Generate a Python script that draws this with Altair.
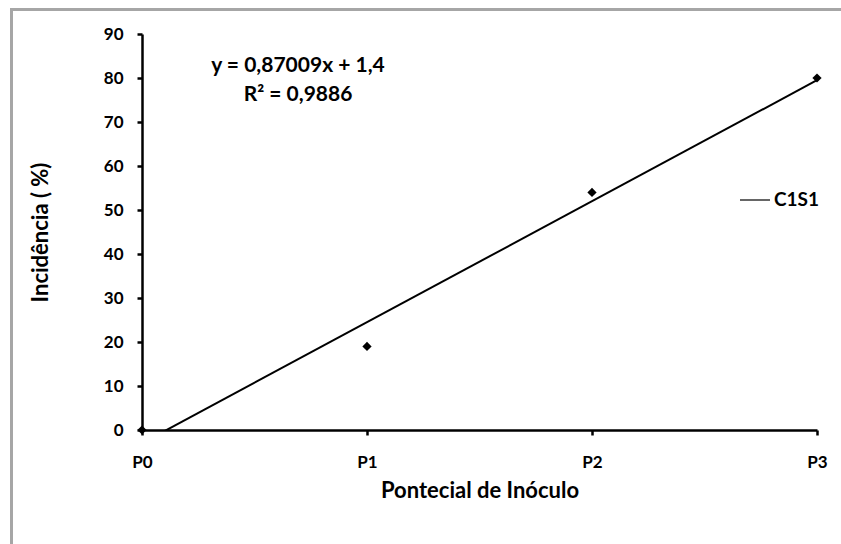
import altair as alt
import pandas as pd

# Inoculum potential levels and observed incidence (%)
categories = ["P0", "P1", "P2", "P3"]
incidence = [0, 19, 54, 80]
series_name = "C1S1"
equation_lines = ["y = 0,87009x + 1,4", "R² = 0,9886"]

df = pd.DataFrame({
    "idx": list(range(len(categories))),
    "categoria": categories,
    "incidencia": incidence,
    "serie": [series_name] * len(categories),
})

FONT = "Lato"
label_expr = "[" + ",".join(f"'{c}'" for c in categories) + "][datum.value]"

x_enc = alt.X(
    "idx:Q",
    scale=alt.Scale(domain=[0, len(categories) - 1], nice=False, zero=False),
    axis=alt.Axis(
        title="Pontecial de Inóculo",
        values=list(range(len(categories))),
        labelExpr=label_expr,
        grid=False,
        domainColor="black", domainWidth=2.5,
        tickColor="black", tickWidth=2.5, tickSize=5,
        labelFont=FONT, labelFontSize=17, labelFontWeight="bold", labelColor="black",
        labelPadding=19, labelFlush=False,
        titleFont=FONT, titleFontSize=22, titleFontWeight="bold", titleColor="black",
        titleY=60, titleBaseline="middle",
    ),
)
y_enc = alt.Y(
    "incidencia:Q",
    scale=alt.Scale(domain=[0, 90], nice=False),
    axis=alt.Axis(
        title="Incidência ( %)",
        values=list(range(0, 91, 10)),
        grid=False,
        domainColor="black", domainWidth=2.5,
        tickColor="black", tickWidth=2.5, tickSize=5,
        labelFont=FONT, labelFontSize=17, labelFontWeight="bold", labelColor="black",
        labelPadding=14,
        titleFont=FONT, titleFontSize=22, titleFontWeight="bold", titleColor="black",
        titleX=-102, titleBaseline="middle",
    ),
)

base = alt.Chart(df)

points = base.mark_point(shape="diamond", filled=True, color="black", size=85, opacity=1, clip=False).encode(
    x=x_enc, y=y_enc
)

trend = base.transform_regression(
    "idx", "incidencia", method="linear", extent=[0, len(categories) - 1]
).transform_calculate(serie=f"'{series_name}'").mark_line(strokeWidth=2, clip=True).encode(
    x=x_enc,
    y=y_enc,
    color=alt.Color(
        "serie:N",
        scale=alt.Scale(range=["black"]),
        legend=alt.Legend(
            title=None, orient="none", legendX=597, legendY=150,
            symbolType="stroke", symbolSize=900, symbolStrokeWidth=1.2,
            labelFont=FONT, labelFontSize=19, labelFontWeight="bold", labelColor="black",
            labelOffset=3,
        ),
    ),
)

# Trend-line equation and coefficient of determination
eq_layers = []
for line_text, y_px in zip(equation_lines, [32, 61]):
    eq_layers.append(
        alt.Chart(df.head(1)).mark_text(
            text=line_text, font=FONT, fontSize=21, fontWeight="bold", color="black",
            baseline="middle", align="center",
        ).encode(x=alt.value(156), y=alt.value(y_px))
    )

# Grey frame on the left and top edges of the figure
frame_left = alt.Chart(df.head(1)).mark_rule(color="#a6a6a6", strokeWidth=3).encode(
    x=alt.value(-130.5), y=alt.value(-25), y2=alt.value(510)
)
frame_top = alt.Chart(df.head(1)).mark_rule(color="#a6a6a6", strokeWidth=3).encode(
    x=alt.value(-132), x2=alt.value(700), y=alt.value(-24.5)
)

chart = alt.layer(trend, points, *eq_layers, frame_left, frame_top).properties(
    width=675, height=396,
    autosize=alt.AutoSizeParams(type="none"),
    padding={"left": 142, "top": 34, "right": 24, "bottom": 114},
    background="white",
).configure_view(stroke=None)

chart.save("out.html", embed_options={"renderer": "svg", "actions": False})
